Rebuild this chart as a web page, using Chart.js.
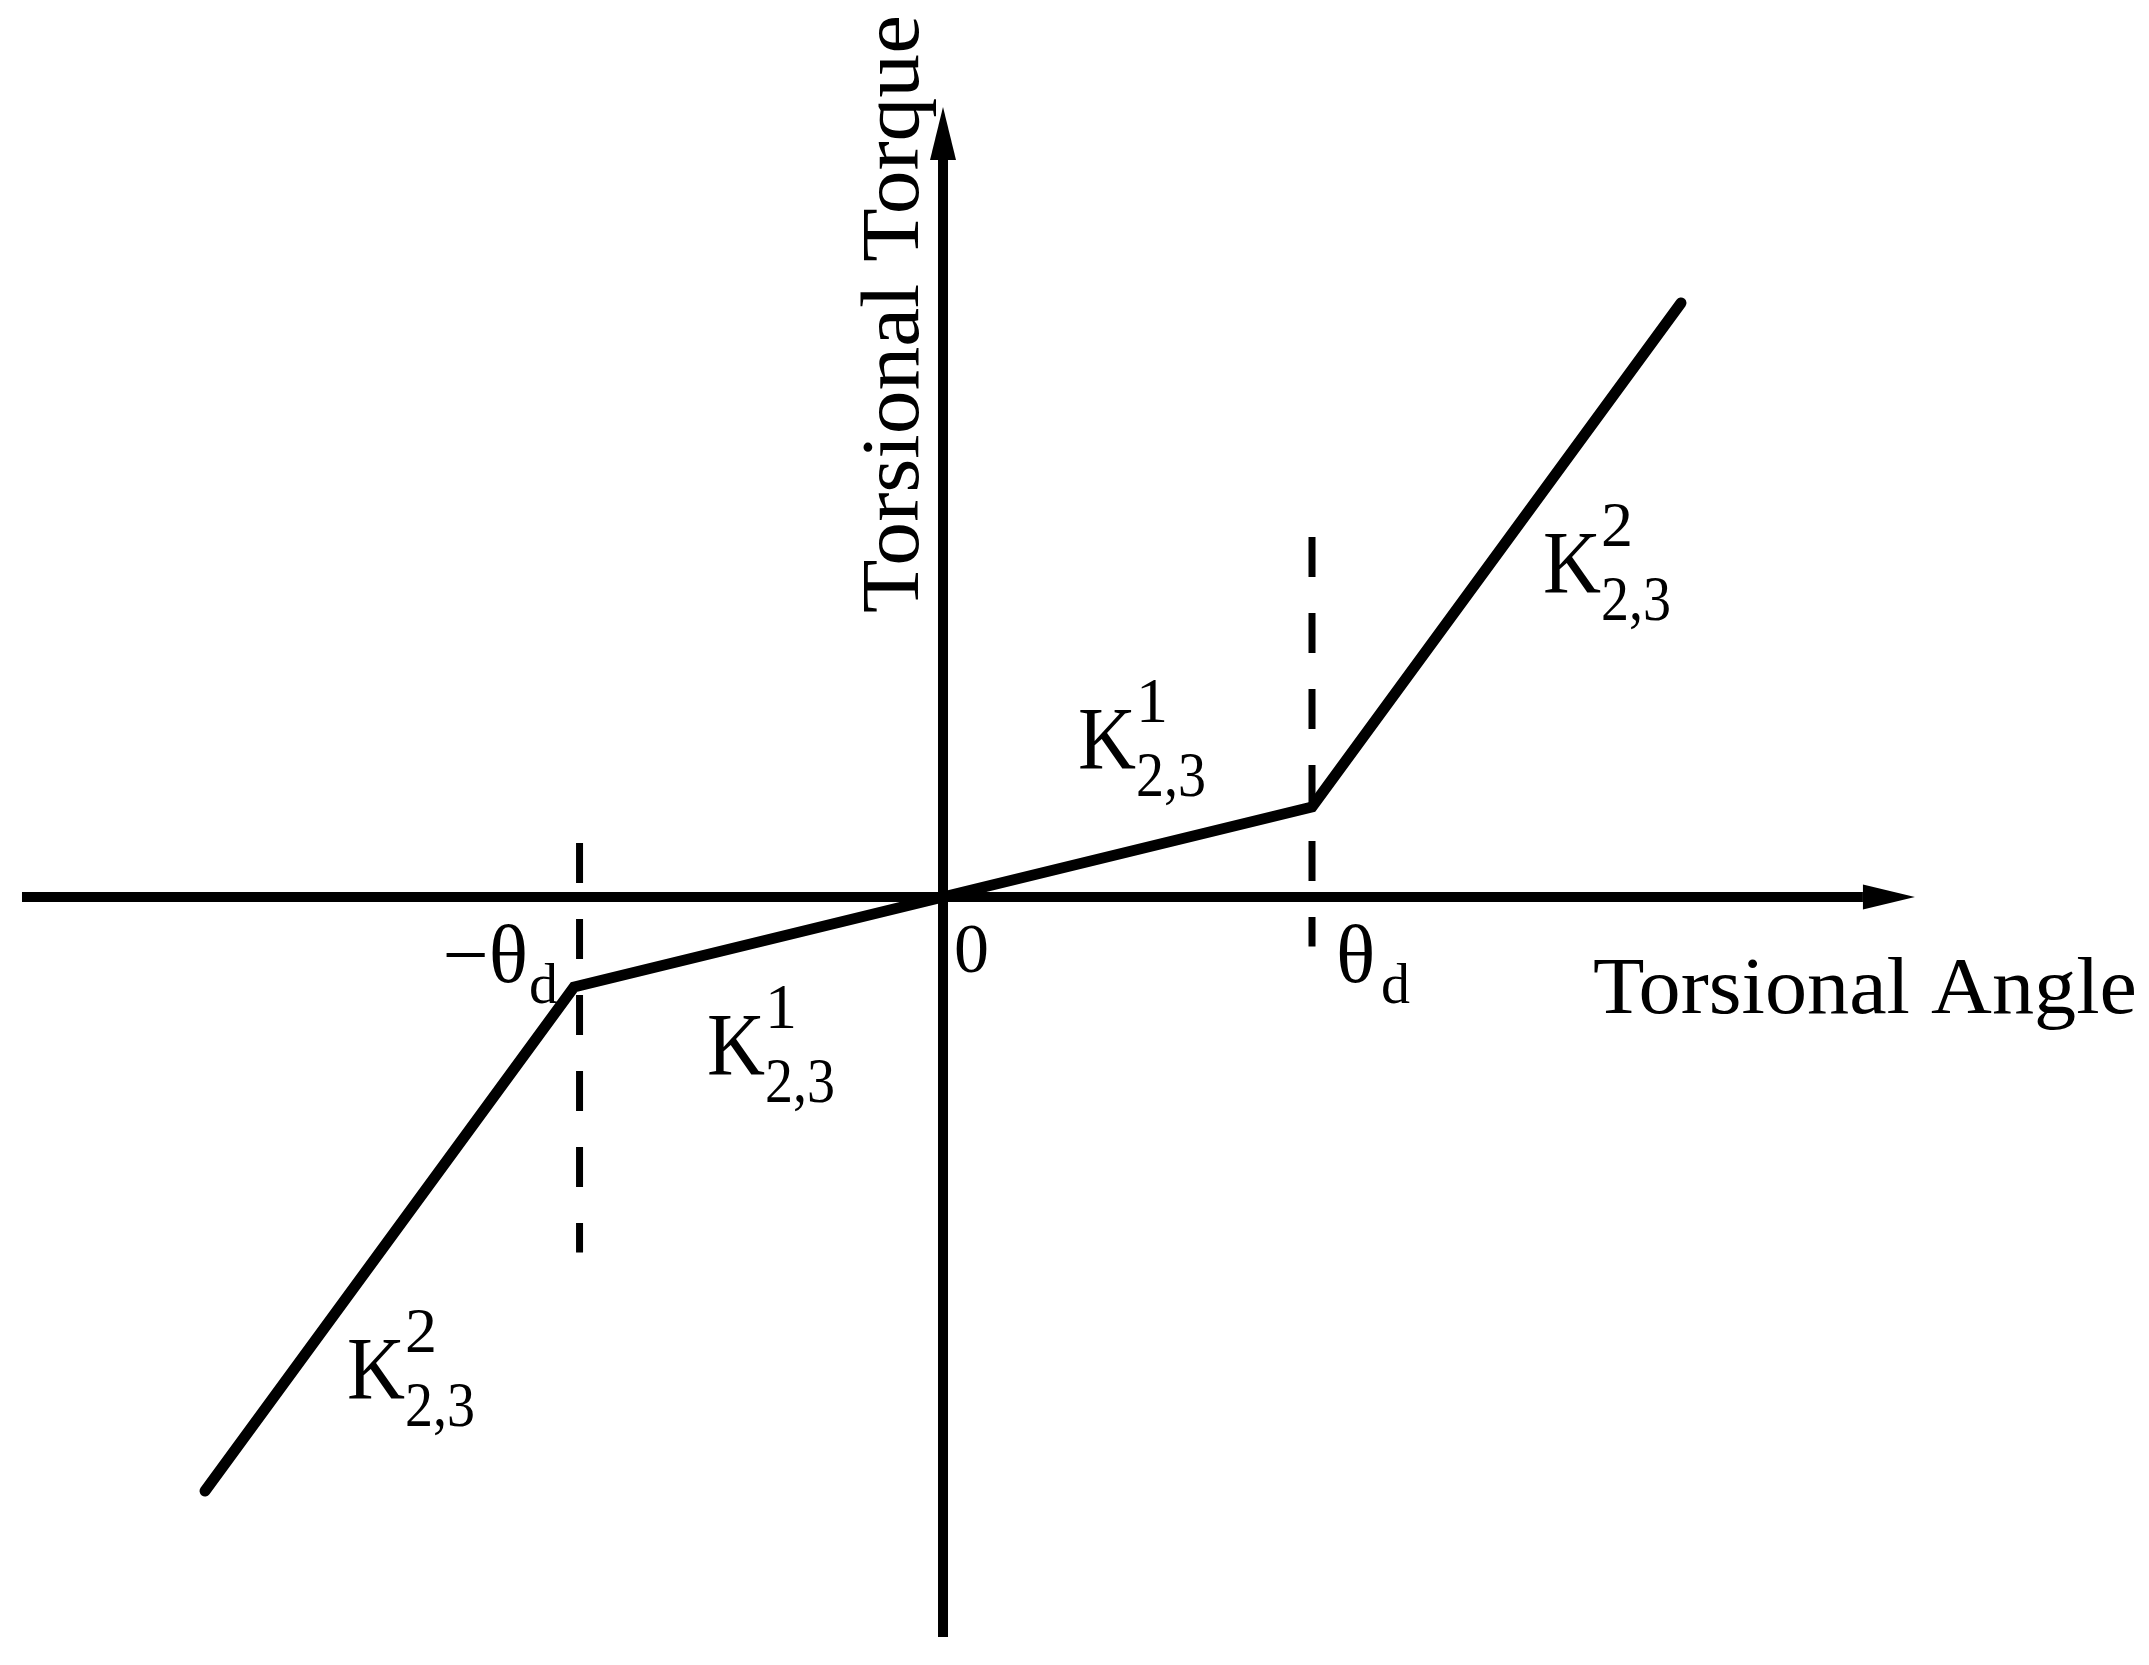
<!DOCTYPE html>
<html><head><meta charset="utf-8">
<script src="https://cdn.jsdelivr.net/npm/chart.js@4.4.0/dist/chart.umd.min.js"></script>
<style>html,body{margin:0;padding:0;background:#fff;overflow:hidden}</style>
</head><body>
<canvas id="c" width="2149" height="1665"></canvas>
<script>
// ---- data (x in units of theta_d, y in units of torque at theta_d) ----
const curveX = [-2, -1, 0, 1, 2];
const curveY = [-6.6, -1, 0, 1, 6.6];
const dashX = [-0.985, 1];
const dashRightY = [4.0, -0.55];
const dashLeftY = [0.6, -3.95];
const angleAxisX = [-2.496, 2.493];
const torqueAxisY = [-8.222, 8.189];
const angleArrowTip = 2.634;
const torqueArrowTip = 8.778;
const xRange = [-2.5556, 3.2683];
const yRange = [-8.5333, 9.9667];
const axisTitles = ['Torsional Angle', 'Torsional Torque'];
const stiffnessLabels = [
  {base: 'K', sup: '1', sub: '2,3'},
  {base: 'K', sup: '1', sub: '2,3'},
  {base: 'K', sup: '2', sub: '2,3'},
  {base: 'K', sup: '2', sub: '2,3'}
];

const FONT = '"Liberation Serif", "DejaVu Serif", serif';
const pts = (xs, ys) => xs.map((x, i) => ({x, y: ys[i]}));

function fitText(ctx, text, x, y, width) {
  const w = ctx.measureText(text).width;
  ctx.save();
  ctx.translate(x, y);
  ctx.scale(width / w, 1);
  ctx.textAlign = 'left';
  ctx.fillText(text, 0, 0);
  ctx.restore();
}

const arrowPlugin = {
  id: 'arrows',
  afterDatasetsDraw(chart) {
    const {ctx, scales: {x, y}} = chart;
    ctx.save();
    ctx.fillStyle = '#000';
    const hx0 = x.getPixelForValue(angleAxisX[1]);
    const hx1 = x.getPixelForValue(angleArrowTip);
    const hy = y.getPixelForValue(0);
    ctx.beginPath();
    ctx.moveTo(hx1, hy);
    ctx.lineTo(hx0, hy - 12.5);
    ctx.lineTo(hx0, hy + 12.5);
    ctx.closePath();
    ctx.fill();
    const vy0 = y.getPixelForValue(torqueAxisY[1]);
    const vy1 = y.getPixelForValue(torqueArrowTip);
    const vx = x.getPixelForValue(0);
    ctx.beginPath();
    ctx.moveTo(vx, vy1);
    ctx.lineTo(vx - 13, vy0);
    ctx.lineTo(vx + 13, vy0);
    ctx.closePath();
    ctx.fill();
    ctx.restore();
  }
};

const labelPlugin = {
  id: 'labels',
  afterDraw(chart) {
    const {ctx} = chart;
    ctx.save();
    ctx.fillStyle = '#000';
    ctx.textBaseline = 'alphabetic';
    // axis titles
    ctx.font = '80px ' + FONT;
    fitText(ctx, axisTitles[0], 1593, 1013, 544);
    ctx.save();
    ctx.translate(918, 613);
    ctx.rotate(-Math.PI / 2);
    ctx.font = '82px ' + FONT;
    fitText(ctx, axisTitles[1], 0, 0, 598);
    ctx.restore();
    // origin
    ctx.textAlign = 'left';
    ctx.font = '70px ' + FONT;
    ctx.fillText('0', 954, 972);
    // theta_d labels
    ctx.font = '82px ' + FONT;
    ctx.textAlign = 'left';
    ctx.fillText('\u03B8', 1336, 982);
    ctx.textAlign = 'right';
    ctx.fillText('\u2212\u03B8', 528, 982);
    ctx.font = '58px ' + FONT;
    ctx.textAlign = 'left';
    ctx.fillText('d', 1381, 1003);
    ctx.fillText('d', 529, 1003);
    // stiffness labels
    const pos = [[1078, 768], [707, 1074], [1543, 592], [347, 1398]];
    stiffnessLabels.forEach((l, i) => {
      const [px, py] = pos[i];
      ctx.font = '88px ' + FONT;
      fitText(ctx, l.base, px, py, 58);
      ctx.font = '64px ' + FONT;
      ctx.textAlign = 'left';
      ctx.fillText(l.sup, px + 58, py - 46);
      fitText(ctx, l.sub, px + 58, py + 28, 70);
    });
    ctx.restore();
  }
};

new Chart(document.getElementById('c'), {
  type: 'scatter',
  data: {
    datasets: [
      {data: pts(angleAxisX, [0, 0]), showLine: true, borderColor: '#000', borderWidth: 10, pointRadius: 0, borderCapStyle: 'butt'},
      {data: pts([0, 0], torqueAxisY), showLine: true, borderColor: '#000', borderWidth: 10, pointRadius: 0, borderCapStyle: 'butt'},
      {data: pts([dashX[1], dashX[1]], dashRightY), showLine: true, borderColor: '#000', borderWidth: 7, pointRadius: 0, borderDash: [40, 36], borderCapStyle: 'butt'},
      {data: pts([dashX[0], dashX[0]], dashLeftY), showLine: true, borderColor: '#000', borderWidth: 7, pointRadius: 0, borderDash: [40, 36], borderCapStyle: 'butt'},
      {data: pts(curveX, curveY), showLine: true, borderColor: '#000', borderWidth: 11, pointRadius: 0, borderCapStyle: 'round', borderJoinStyle: 'miter', tension: 0}
    ]
  },
  options: {
    responsive: false,
    animation: false,
    devicePixelRatio: 1,
    layout: {padding: 0},
    plugins: {legend: {display: false}, tooltip: {enabled: false}},
    events: [],
    scales: {
      x: {type: 'linear', min: xRange[0], max: xRange[1], display: false},
      y: {type: 'linear', min: yRange[0], max: yRange[1], display: false}
    }
  },
  plugins: [arrowPlugin, labelPlugin]
});
</script>
</body></html>
